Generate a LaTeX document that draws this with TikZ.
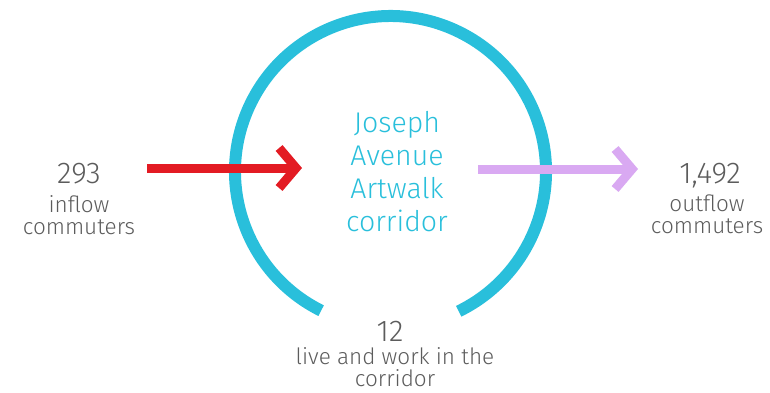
\documentclass[tikz,border=0pt]{standalone}
\usepackage{fontspec}
\setmainfont{Fira Sans}[UprightFont=* Light]
\usetikzlibrary{arrows.meta}
\definecolor{ringcyan}{HTML}{29BFDB}
\definecolor{inred}{HTML}{E31B23}
\definecolor{outpurple}{HTML}{D9A9F2}
\definecolor{txtgray}{HTML}{5C5C5C}
\tikzset{
  num/.style={text=txtgray, font=\fontsize{30}{32}\selectfont, inner sep=0pt, anchor=base},
  lbl/.style={text=txtgray, font=\fontsize{22.5}{22}\selectfont, inner sep=0pt, align=center, anchor=north},
  flow/.style={line width=9pt, -{Straight Barb[length=17pt, width=40pt]}},
}
\begin{document}
\begin{tikzpicture}[x=1pt,y=-1pt]
\useasboundingbox (0,0) rectangle (770,392);
\coordinate (c) at (390.5,171.5);
\draw[ringcyan, line width=12pt] (c) ++(116.5:155.5) arc[start angle=116.5, end angle=424, radius=155.5];
\node[text=ringcyan, font=\fontsize{28.5}{33}\selectfont, align=center, inner sep=0pt] (title) at (397,172) {Joseph\\Avenue\\Artwalk\\corridor};
\node[num] (n293) at (79,183) {293};
\node[lbl] (inlbl) at (79,195) {inflow\\commuters};
\node[num] (n1492) at (710,183) {1,492};
\node[lbl] (outlbl) at (707,195) {outflow\\commuters};
\node[num] (n12) at (390,341) {12};
\node[lbl] (botlbl) at (395,347) {live and work in the\\corridor};
\coordinate (rs) at (147,168);
\coordinate (re) at (302,168);
\coordinate (ps) at (478,169);
\coordinate (pe) at (638,169);
\draw[flow, inred] (rs) -- (re);
\draw[flow, outpurple] (ps) -- (pe);
\end{tikzpicture}
\end{document}
